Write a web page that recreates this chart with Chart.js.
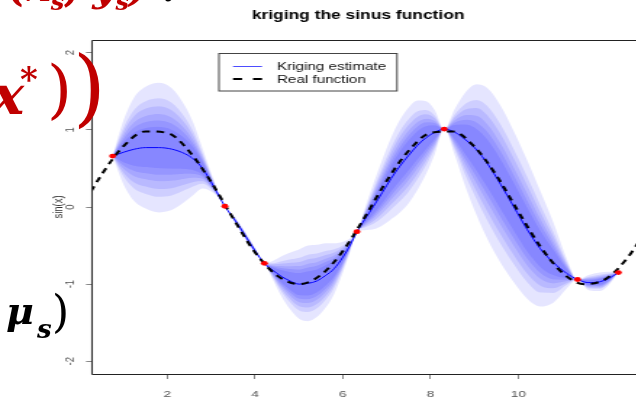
<!DOCTYPE html>
<html>
<head>
<meta charset="utf-8">
<script src="https://cdn.jsdelivr.net/npm/chart.js@4.4.0/dist/chart.umd.min.js"></script>
<style>
html, body { margin: 0; padding: 0; background: #fff; overflow: hidden; width: 636px; height: 401px; }
#plot { position: absolute; left: 0; top: 0; width: 460px; height: 401px; transform: scaleX(1.45); transform-origin: 0 0; }
.slide { position: absolute; font-family: "DejaVu Serif", serif; font-weight: bold; font-style: italic; line-height: 1; white-space: nowrap; color: #c00000; }
</style>
</head>
<body>
<div id="plot"><canvas id="myChart" width="460" height="401" style="width:460px;height:401px"></canvas></div>

<!-- bits of the slide text around the picture -->
<span class="slide" style="left:8px;top:-33px;font-size:40px">(x<sub style="font-size:24px">s</sub>, y<sub style="font-size:24px">s</sub>)<span style="color:#000"> .</span></span>
<span class="slide" style="left:-8px;top:68px;font-size:54px">x</span>
<span class="slide" style="left:20px;top:62px;font-size:34px">*</span>
<span class="slide" style="left:47px;top:57px;font-size:64px;font-style:normal;font-weight:normal">)</span>
<span class="slide" style="left:73px;top:45px;font-size:84px;font-style:normal;font-weight:normal">)</span>
<span class="slide" style="left:6px;top:292px;font-size:38px;color:#000">μ</span>
<span class="slide" style="left:37px;top:316px;font-size:26px;color:#000">s</span>
<span class="slide" style="left:52px;top:290px;font-size:44px;color:#000;font-style:normal;font-weight:normal">)</span>

<script>
// observations
var obsX = [0.75, 3.31, 4.21, 6.32, 8.31, 11.35, 12.28];
var obsY = [0.66, 0.01, -0.73, -0.32, 1.01, -0.94, -0.85];

// kriging estimate and spread of the outer band
var krigX = [0.75, 1.0, 1.25, 1.5, 1.8, 2.1, 2.4, 2.6, 2.8, 3.05, 3.31,
             3.55, 3.76, 4.0, 4.21,
             4.4, 4.6, 4.8, 5.0, 5.2, 5.4, 5.6, 5.8, 6.0, 6.15, 6.32,
             6.5, 6.7, 6.9, 7.1, 7.3, 7.5, 7.7, 7.9, 8.1, 8.31,
             8.55, 8.8, 9.05, 9.3, 9.6, 9.9, 10.2, 10.5, 10.8, 11.1, 11.35,
             11.6, 11.85, 12.05, 12.28];
var krigMean = [0.66, 0.71, 0.75, 0.77, 0.77, 0.75, 0.69, 0.62, 0.50, 0.27, 0.01,
                -0.18, -0.36, -0.57, -0.73,
                -0.82, -0.90, -0.96, -1.0, -0.99, -0.96, -0.89, -0.80, -0.65, -0.51, -0.32,
                -0.16, 0.01, 0.19, 0.37, 0.53, 0.67, 0.80, 0.90, 0.97, 1.01,
                0.97, 0.87, 0.74, 0.56, 0.29, 0.0, -0.29, -0.54, -0.72, -0.86, -0.94,
                -0.98, -0.97, -0.93, -0.85];
var krigSpread = [0, 0.42, 0.68, 0.79, 0.84, 0.79, 0.62, 0.46, 0.26, 0.09, 0,
                  0.04, 0.05, 0.04, 0,
                  0.12, 0.26, 0.37, 0.45, 0.49, 0.47, 0.42, 0.33, 0.2, 0.1, 0,
                  0.14, 0.3, 0.43, 0.53, 0.6, 0.62, 0.58, 0.47, 0.28, 0,
                  0.3, 0.62, 0.85, 0.98, 1.02, 0.98, 0.9, 0.75, 0.52, 0.2, 0,
                  0.1, 0.12, 0.09, 0];
// width of each shaded band relative to the outer one
var bandLevels = [1, 0.76, 0.64, 0.52, 0.42, 0.32];

// real function
var realX = [0, 0.5, 1, 1.5, 2, 2.5, 3, 3.5, 4, 4.5, 5, 5.5, 6, 6.5, 7, 7.5, 8, 8.5, 9, 9.5, 10, 10.5, 11, 11.5, 12, 12.5, 13];
var realY = [-0.04, 0.42, 0.79, 0.98, 0.96, 0.72, 0.32, -0.15, -0.59, -0.89, -1.0, -0.88, -0.57, -0.13, 0.34, 0.73, 0.96, 0.98, 0.78, 0.41, -0.06, -0.51, -0.85, -1.0, -0.93, -0.65, -0.23];

var xTicks = [2, 4, 6, 8, 10];
var yTicks = [-2, -1, 0, 1, 2];

var fontName = "'Liberation Sans', Arial, sans-serif";

function pts(xs, ys) {
    return xs.map(function (x, i) { return { x: x, y: ys[i] }; });
}

var datasets = [];
datasets.push({
    label: "obs",
    data: pts(obsX, obsY),
    showLine: false,
    pointRadius: 2.4,
    pointBackgroundColor: "#ff0000",
    pointBorderWidth: 0,
    order: 0,
});
datasets.push({
    label: "Real function",
    data: pts(realX, realY),
    borderColor: "#000000",
    borderWidth: 2,
    borderDash: [5.5, 4.5],
    pointRadius: 0,
    cubicInterpolationMode: "monotone",
    fill: false,
    order: 1,
});
datasets.push({
    label: "Kriging estimate",
    data: pts(krigX, krigMean),
    borderColor: "#0000ff",
    borderWidth: 1,
    pointRadius: 0,
    cubicInterpolationMode: "monotone",
    fill: false,
    order: 2,
});
bandLevels.forEach(function (lvl) {
    var up = krigMean.map(function (m, i) { return m + lvl * krigSpread[i]; });
    var lo = krigMean.map(function (m, i) { return m - lvl * krigSpread[i]; });
    datasets.push({
        label: "band",
        data: pts(krigX, up),
        borderWidth: 0,
        pointRadius: 0,
        cubicInterpolationMode: "monotone",
        backgroundColor: "rgba(0, 0, 255, 0.1)",
        fill: "+1",
        order: 3,
    });
    datasets.push({
        label: "band",
        data: pts(krigX, lo),
        borderWidth: 0,
        pointRadius: 0,
        cubicInterpolationMode: "monotone",
        fill: false,
        order: 3,
    });
});

// box, title and boxed legend like the R plot
var framePlugin = {
    id: "frame",
    afterDatasetsDraw: function (chart) {
        var c = chart.ctx, a = chart.chartArea;
        c.save();
        c.strokeStyle = "#222";
        c.lineWidth = 1;
        c.beginPath();
        c.moveTo(a.right, Math.round(a.top) + 0.5);
        c.lineTo(a.left, Math.round(a.top) + 0.5);
        c.lineTo(a.left, Math.round(a.bottom) + 0.5);
        c.lineTo(a.right, Math.round(a.bottom) + 0.5);
        c.stroke();
        c.restore();
    },
    afterDraw: function (chart) {
        var c = chart.ctx;
        c.save();
        c.fillStyle = "#000";
        c.font = "bold 12px " + fontName;
        c.textAlign = "center";
        c.fillText("kriging the sinus function", 247, 18.5);

        // legend
        c.strokeStyle = "#444";
        c.lineWidth = 1;
        c.strokeRect(151, 53.5, 122.8, 37.5);
        c.strokeStyle = "#4d4dff";
        c.beginPath();
        c.moveTo(160.7, 66.5);
        c.lineTo(180.7, 66.5);
        c.stroke();
        c.strokeStyle = "#000";
        c.lineWidth = 2;
        c.setLineDash([6.2, 7.6]);
        c.beginPath();
        c.moveTo(160.7, 79);
        c.lineTo(180.7, 79);
        c.stroke();
        c.setLineDash([]);
        c.font = "10.5px " + fontName;
        c.textAlign = "left";
        c.fillStyle = "#111";
        c.fillText("Kriging estimate", 191, 69.5);
        c.fillText("Real function", 191, 82.5);
        c.restore();
    },
};

var ctx = document.getElementById("myChart").getContext("2d");
new Chart(ctx, {
    type: "line",
    data: { datasets: datasets },
    options: {
        responsive: false,
        animation: false,
        events: [],
        layout: { padding: { left: 0, right: 13, top: 40, bottom: 0 } },
        plugins: {
            legend: { display: false },
            title: { display: false },
            tooltip: { enabled: false },
        },
        scales: {
            x: {
                type: "linear",
                min: 0.28,
                max: 12.96,
                afterBuildTicks: function (s) { s.ticks = xTicks.map(function (v) { return { value: v }; }); },
                afterFit: function (s) { s.height = 27; },
                grid: { drawOnChartArea: false, tickLength: 5, color: "#888" },
                border: { display: false },
                ticks: { color: "#555", font: { family: fontName, size: 9.5 }, padding: 10, maxRotation: 0, autoSkip: false },
            },
            y: {
                type: "linear",
                min: -2.165,
                max: 2.165,
                afterBuildTicks: function (s) { s.ticks = yTicks.map(function (v) { return { value: v }; }); },
                afterFit: function (s) { s.width = 63.45; },
                grid: { drawOnChartArea: false, tickLength: 4.1, color: "#888" },
                border: { display: false },
                ticks: { color: "#555", font: { family: fontName, size: 9.5 }, padding: 6.8, minRotation: 90, maxRotation: 90, crossAlign: "center", autoSkip: false },
                title: { display: true, text: "sin(x)", color: "#333", font: { family: fontName, size: 9.5 }, padding: { top: 35, bottom: 0 } },
            },
        },
    },
    plugins: [framePlugin],
});
</script>
</body>
</html>
